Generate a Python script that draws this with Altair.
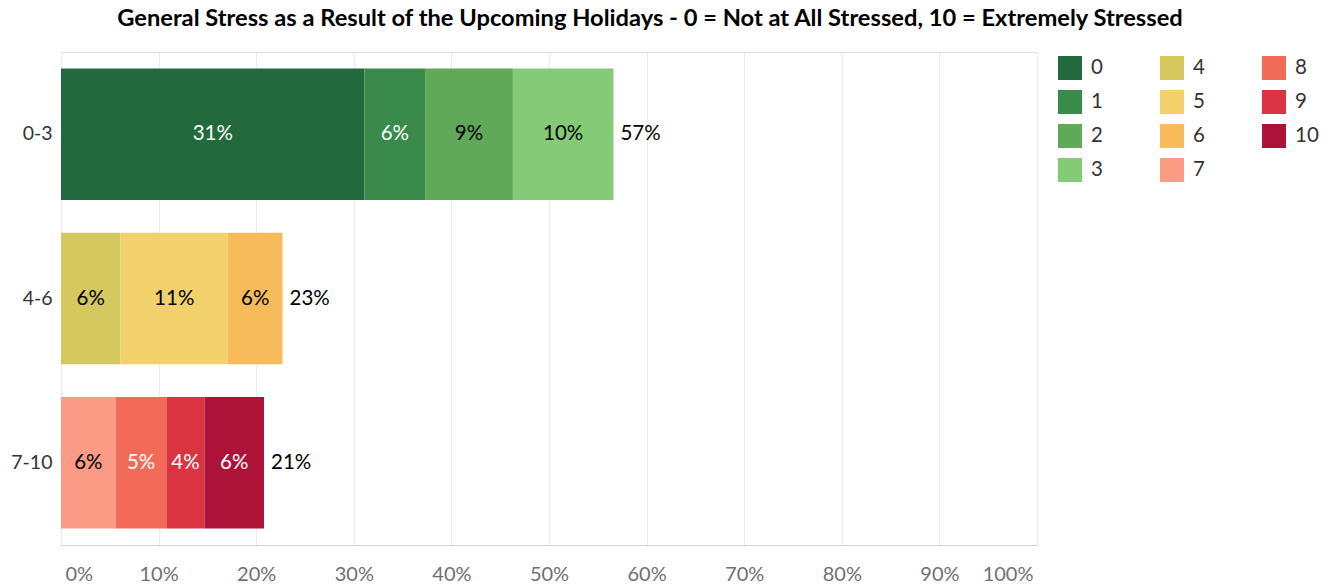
import altair as alt
import pandas as pd

# ---- data ----
groups = ["0-3", "0-3", "0-3", "0-3", "4-6", "4-6", "4-6", "7-10", "7-10", "7-10", "7-10"]
scores = ["0", "1", "2", "3", "4", "5", "6", "7", "8", "9", "10"]
values = [0.311, 0.062, 0.090, 0.103, 0.061, 0.110, 0.056, 0.056, 0.052, 0.039, 0.061]
group_order = ["0-3", "4-6", "7-10"]
colors = ["#23693e", "#398a4b", "#60a959", "#85ca77", "#d4c85e", "#f2d06b",
          "#f7bb5c", "#fb9a85", "#f26b58", "#da3341", "#ad1238"]
dark_scores = ["0", "1", "8", "9", "10"]
x_ticks = [0, 0.1, 0.2, 0.3, 0.4, 0.5, 0.6, 0.7, 0.8, 0.9, 1.0]

df = pd.DataFrame({"group": groups, "score": scores, "value": values})
df["score_num"] = df["score"].astype(int)

FONT = "Lato"

color_scale = alt.Scale(domain=scores, range=colors)
y_enc = alt.Y("group:N", sort=group_order, title=None,
              scale=alt.Scale(paddingInner=0.2, paddingOuter=0.1),
              axis=alt.Axis(labelFontSize=19.5, labelColor="#333333", labelFont=FONT,
                            ticks=False, domain=False, labelPadding=9))
x_scale = alt.Scale(domain=[0, 1], nice=False)

base = alt.Chart(df)

bars = base.mark_bar().encode(
    y=y_enc,
    x=alt.X("value:Q", stack="zero", scale=x_scale, title=None,
            axis=alt.Axis(values=x_ticks, format=".0%", labelFontSize=20,
                          labelColor="#707070", labelFont=FONT, ticks=False,
                          labelPadding=19, labelFlush=True, labelFlushOffset=-4,
                          gridColor="#ececec", domainColor="#d4d4d4")),
    color=alt.Color("score:N", scale=color_scale, sort=scores,
                    legend=alt.Legend(title=None, orient="none", legendX=997, legendY=4,
                                      columns=3, symbolType="square", symbolSize=576,
                                      symbolStrokeWidth=0, labelFontSize=20.5,
                                      labelFont=FONT, labelColor="#333333",
                                      rowPadding=10, columnPadding=57, labelOffset=9,
                                      padding=0)),
    order=alt.Order("score_num:Q", sort="ascending"),
)

seg_text = base.transform_stack(
    stack="value", groupby=["group"], as_=["x0", "x1"],
    sort=[alt.SortField("score_num", order="ascending")],
).transform_calculate(
    mid="(datum.x0 + datum.x1) / 2"
).mark_text(fontSize=20.5, font=FONT, align="center", baseline="middle").encode(
    y=alt.Y("group:N", sort=group_order),
    x=alt.X("mid:Q", scale=x_scale),
    text=alt.Text("value:Q", format=".0%"),
    color=alt.condition(
        "indexof(" + str(dark_scores) + ", datum.score) >= 0",
        alt.value("white"), alt.value("black")),
)

totals = base.transform_aggregate(
    total="sum(value)", groupby=["group"]
).mark_text(fontSize=20.5, font=FONT, align="left", baseline="middle", dx=7,
            color="black").encode(
    y=alt.Y("group:N", sort=group_order),
    x=alt.X("total:Q", scale=x_scale),
    text=alt.Text("total:Q", format=".0%"),
)

chart = alt.layer(bars, seg_text, totals).properties(
    width=976, height=493,
    title=alt.TitleParams(
        "General Stress as a Result of the Upcoming Holidays - 0 = Not at All Stressed, 10 = Extremely Stressed",
        font=FONT, fontSize=23.7, fontWeight="bold", color="black",
        anchor="middle", frame="group", dx=101, offset=21),
    autosize=alt.AutoSizeParams(type="none"),
    padding={"left": 61, "top": 52, "right": 294, "bottom": 43},
).configure_view(stroke="#dcdcdc").configure(background="white")

chart.save("out.html", embed_options={"renderer": "svg", "actions": False})
